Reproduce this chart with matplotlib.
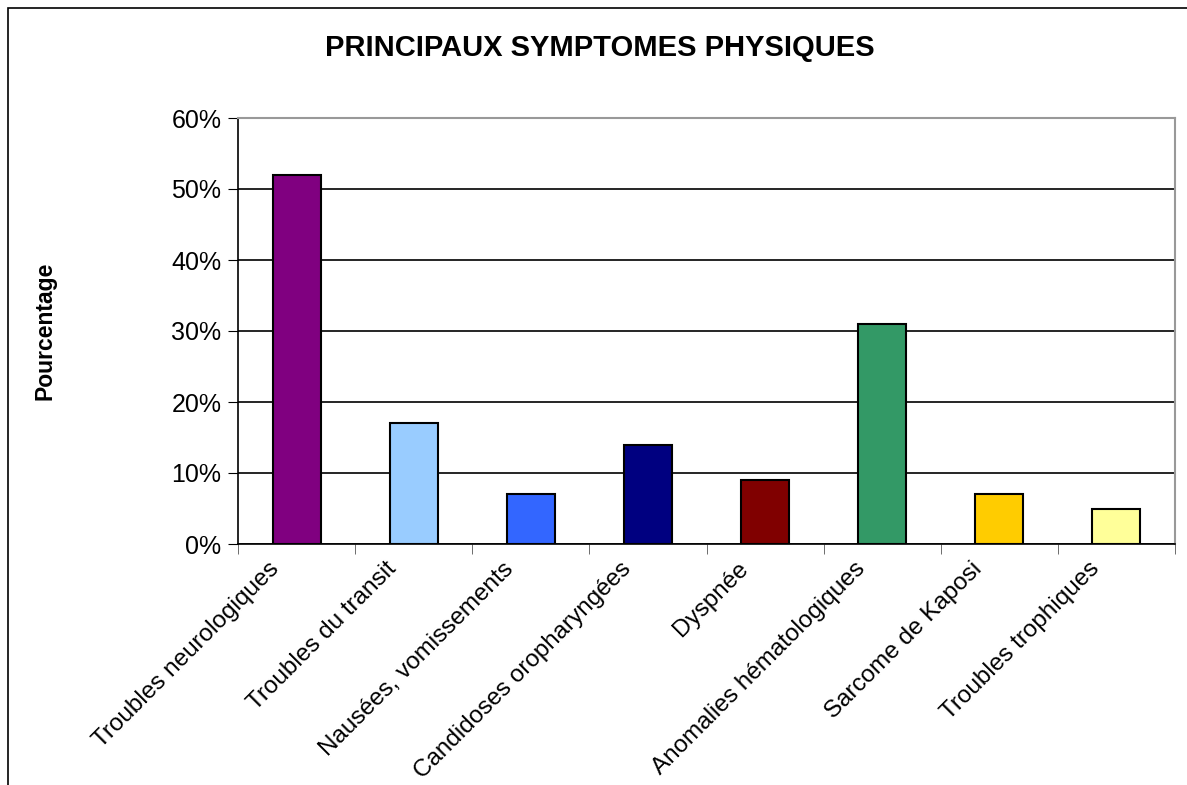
import numpy as np
import matplotlib.pyplot as plt
from matplotlib.patches import Rectangle
from matplotlib.ticker import PercentFormatter

plt.rcParams['font.family'] = ['Liberation Sans', 'DejaVu Sans']

categories = ['Troubles neurologiques', 'Troubles du transit', 'Nausées, vomissements',
              'Candidoses oropharyngées', 'Dyspnée', 'Anomalies hématologiques',
              'Sarcome de Kaposi', 'Troubles trophiques']
values = [52, 17, 7, 14, 9, 31, 7, 5]
colors = ['#800080', '#99CCFF', '#3366FF', '#000080', '#800000', '#339966', '#FFCC00', '#FFFF99']
yticks = [0, 10, 20, 30, 40, 50, 60]

fig = plt.figure(figsize=(11.87, 7.85), dpi=100)
# outer chart frame (only left and top edges are visible in the crop)
fig.patches.append(Rectangle((8/1187, -0.2), 1.2, 1.2 - 8/785, transform=fig.transFigure,
                             fill=False, edgecolor='black', linewidth=1.2))

ax = fig.add_axes([238/1187, 1 - 544/785, (1175 - 238)/1187, (544 - 118)/785])
index = np.arange(len(categories))
ax.bar(index, values, 0.41, color=colors, edgecolor='black', linewidth=1.5, zorder=3)

ax.set_xlim(-0.5, len(categories) - 0.5)
ax.set_ylim(0, 60)
ax.set_yticks(yticks)
ax.yaxis.set_major_formatter(PercentFormatter(decimals=0))
ax.yaxis.grid(True, color='black', linewidth=1.2, zorder=0)

# labels end a little left of the category centre, as in Excel
ax.set_xticks(index - 0.24)
ax.set_xticklabels(categories, rotation=45, ha='right', rotation_mode='anchor')
ax.set_xticks(np.arange(-0.5, len(categories)), minor=True)
ax.tick_params(axis='x', which='major', length=0, pad=10, labelsize=17.5)
ax.tick_params(axis='x', which='minor', length=7, direction='out', color='#555555')
ax.tick_params(axis='y', length=7, direction='out', labelsize=18, pad=5)

for s in ['top', 'right']:
    ax.spines[s].set_color('#999999')
    ax.spines[s].set_linewidth(1.5)
for s in ['left', 'bottom']:
    ax.spines[s].set_color('black')
    ax.spines[s].set_linewidth(1.2)

fig.text(600/1187, 1 - 48/785, 'PRINCIPAUX SYMPTOMES PHYSIQUES', ha='center', va='center',
         fontsize=21, fontweight='bold')
fig.text(45/1187, 1 - 331/785, 'Pourcentage', ha='center', va='center', rotation=90,
         fontsize=16.5, fontweight='bold')

fig.savefig('out.png', dpi=100)
